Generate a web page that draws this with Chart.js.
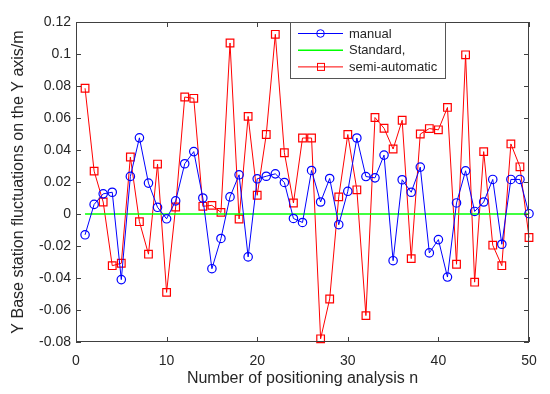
<!DOCTYPE html>
<html><head><meta charset="utf-8">
<script src="https://cdn.jsdelivr.net/npm/chart.js@4.4.0/dist/chart.umd.min.js"></script>
<style>html,body{margin:0;padding:0;background:#fff}#wrap{width:550px;height:394px}</style>
</head><body><div id="wrap"><canvas id="c" width="550" height="394"></canvas></div>
<script>
const runs = [1,2,3,4,5,6,7,8,9,10,11,12,13,14,15,16,17,18,19,20,21,22,23,24,25,26,27,28,29,30,31,32,33,34,35,36,37,38,39,40,41,42,43,44,45,46,47,48,49,50];
const manual = [-0.013,0.006,0.0126,0.0136,-0.041,0.0235,0.0476,0.0193,0.0042,-0.003,
 0.0082,0.0314,0.039,0.010,-0.0342,-0.0153,0.0107,0.0245,-0.0268,0.022,
 0.0236,0.0251,0.0197,-0.0028,-0.0053,0.0272,0.0075,0.0222,-0.0067,0.0142,
 0.0475,0.0234,0.0226,0.0368,-0.0292,0.0214,0.0136,0.0293,-0.0243,-0.016,
 -0.0394,0.0069,0.027,0.0016,0.0075,0.0216,-0.0189,0.0216,0.0216,0.0002];
const standard = [0,0,0,0,0,0,0,0,0,0,0,0,0,0,0,0,0,0,0,0,0,0,0,0,0,0,0,0,0,0,0,0,0,0,0,0,0,0,0,0,0,0,0,0,0,0,0,0,0,0];
const semiAutomatic = [0.0786,0.0268,0.0075,-0.0323,-0.0308,0.0356,-0.0048,-0.0251,0.0312,-0.049,
 0.0044,0.0731,0.0723,0.0048,0.0054,0.001,0.1069,-0.0031,0.061,0.0117,
 0.0497,0.1123,0.0383,0.0069,0.0475,0.0475,-0.078,-0.0531,0.0107,0.0497,
 0.0151,-0.0635,0.0603,0.0536,0.0406,0.0586,-0.0279,0.050,0.0534,0.0526,
 0.0666,-0.0314,0.0995,-0.0426,0.039,-0.0195,-0.0323,0.0438,0.0295,-0.0147];
const xTicks = [0,10,20,30,40,50];
const yTicks = [-0.08,-0.06,-0.04,-0.02,0,0.02,0.04,0.06,0.08,0.1,0.12];
const labels = ['manual','Standard,','semi-automatic'];

const pts = arr => runs.map((n,i)=>({x:n,y:arr[i]}));
const FONT = "'Liberation Sans', Arial, sans-serif";
const TXT = '#262626';

const frame = {
  id:'frame',
  afterDraw(chart){
    const {ctx, chartArea:a, scales:{x,y}} = chart;
    ctx.save();
    ctx.strokeStyle = '#404040'; ctx.lineWidth = 1;
    ctx.strokeRect(a.left+0.5, a.top+0.5, a.right-a.left-1, a.bottom-a.top-1);
    ctx.beginPath();
    const L = 5;
    xTicks.forEach(v=>{const p=Math.round(x.getPixelForValue(v))+0.5;
      ctx.moveTo(p,a.bottom);ctx.lineTo(p,a.bottom-L);ctx.moveTo(p,a.top);ctx.lineTo(p,a.top+L);});
    yTicks.forEach(v=>{const p=Math.round(y.getPixelForValue(v))+0.5;
      ctx.moveTo(a.left,p);ctx.lineTo(a.left+L,p);ctx.moveTo(a.right,p);ctx.lineTo(a.right-L,p);});
    ctx.stroke();
    // legend
    const bx=290.5, by=22.5, bw=155, bh=56;
    ctx.fillStyle='#fff'; ctx.fillRect(bx,by,bw,bh);
    ctx.strokeStyle='#555'; ctx.strokeRect(bx,by,bw,bh);
    ctx.font = '13px '+FONT; ctx.textBaseline='middle'; ctx.textAlign='left';
    chart.data.datasets.forEach((ds,i)=>{
      const yy = 33.5+i*16.7;
      ctx.strokeStyle = ds.borderColor; ctx.lineWidth = ds.borderWidth;
      ctx.beginPath(); ctx.moveTo(298,yy); ctx.lineTo(343,yy); ctx.stroke();
      ctx.lineWidth = 1;
      if(ds.pointStyle==='circle'){ctx.beginPath();ctx.arc(320.5,yy,3.8,0,Math.PI*2);ctx.stroke();}
      else if(ds.pointStyle==='rect'){ctx.strokeRect(317.5,yy-3.5,7,7);}
      ctx.fillStyle = TXT; ctx.fillText(labels[i], 349, yy+0.5);
    });
    ctx.restore();
  }
};

new Chart(document.getElementById('c'), {
  type:'line',
  data:{datasets:[
    {label:labels[0], data:pts(manual), borderColor:'#0000ff', borderWidth:1, pointStyle:'circle', pointRadius:4.2, pointBorderColor:'#0000ff', pointBackgroundColor:'rgba(0,0,0,0)', pointBorderWidth:1.2, clip:false},
    {label:labels[1], data:pts(standard), borderColor:'#00ff00', borderWidth:1.5, pointRadius:0, pointStyle:false, clip:false},
    {label:labels[2], data:pts(semiAutomatic), borderColor:'#ff0000', borderWidth:1, pointStyle:'rect', pointRadius:5.4, pointBorderColor:'#ff0000', pointBackgroundColor:'rgba(0,0,0,0)', pointBorderWidth:1.2, clip:false}
  ]},
  options:{
    responsive:false, animation:false, devicePixelRatio:1,
    layout:{padding:{left:0,right:21,top:22,bottom:0}},
    plugins:{legend:{display:false}, tooltip:{enabled:false}},
    elements:{line:{tension:0}},
    scales:{
      x:{type:'linear', min:0, max:50,
        afterBuildTicks:s=>{s.ticks=xTicks.map(v=>({value:v}));},
        afterFit:s=>{s.height=52;},
        grid:{display:false, drawTicks:false}, border:{display:false},
        ticks:{color:TXT, font:{family:FONT,size:14}, padding:11, maxRotation:0},
        title:{display:true, text:'Number of positioning analysis n', color:TXT, font:{family:FONT,size:16}, padding:{top:6,bottom:6}}
      },
      y:{type:'linear', min:-0.08, max:0.12,
        afterBuildTicks:s=>{s.ticks=yTicks.map(v=>({value:v}));},
        afterFit:s=>{s.width=76;},
        grid:{display:false, drawTicks:false}, border:{display:false},
        ticks:{color:TXT, font:{family:FONT,size:14}, padding:5,
          callback:v=>{const r=Math.round(v*100)/100; return r===0?'0':String(r);}},
        title:{display:true, text:'Y Base station fluctuations on the Y axis/m', color:TXT, font:{family:FONT,size:16}, padding:{top:9,bottom:9}}
      }
    }
  },
  plugins:[frame]
});
</script></body></html>
